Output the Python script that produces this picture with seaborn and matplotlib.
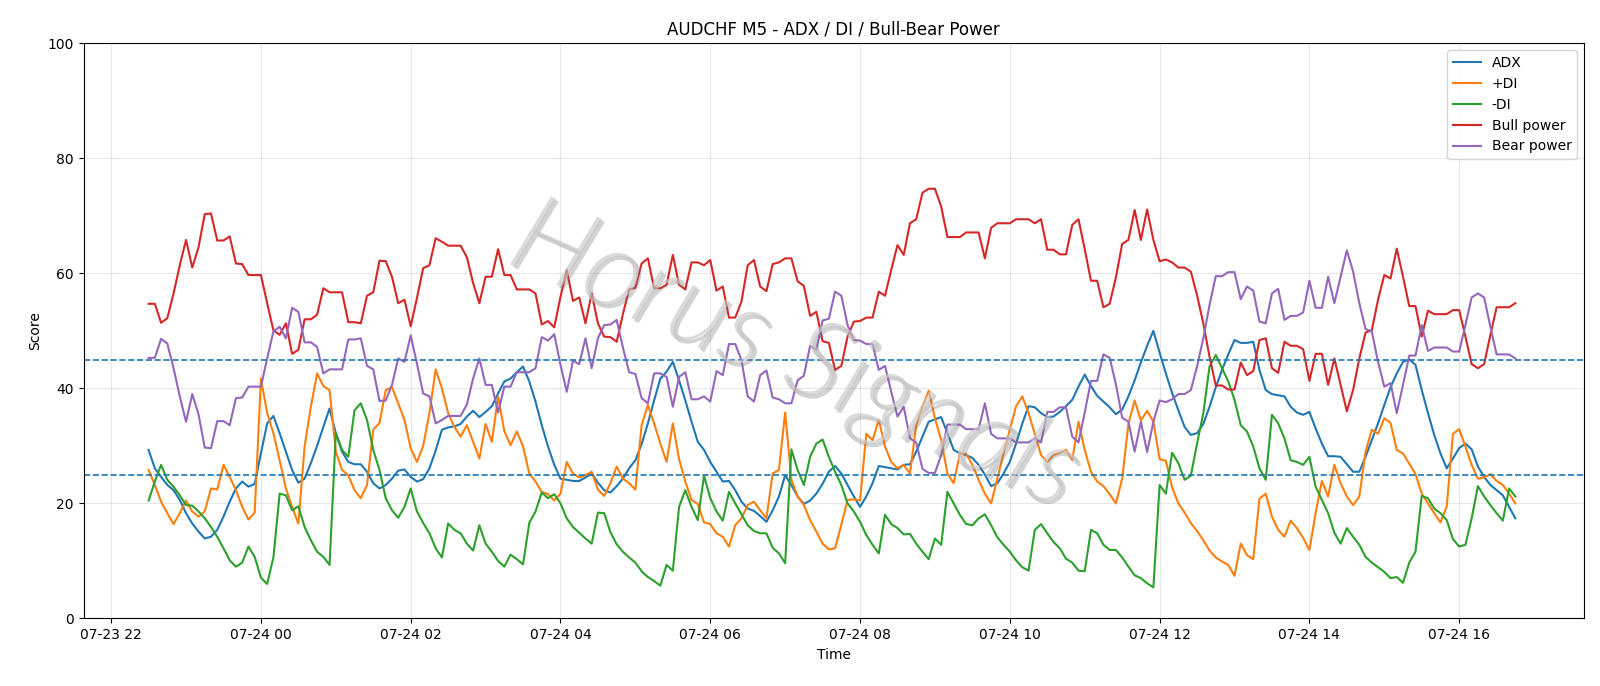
import pandas as pd
import matplotlib
matplotlib.use("Agg")
import matplotlib.pyplot as plt
import matplotlib.dates as mdates
import matplotlib.patheffects as pe
from matplotlib import font_manager as fm
import seaborn as sns

# AUDCHF M5 bars, 22:30 -> 16:45
start = "2025-07-23 22:30"
n_bars = 220

adx = [29.3, 26.1, 24.6, 23.2, 22.3, 20.6, 18.3, 16.5, 15.1, 13.9, 14.2, 15.4, 17.7, 20.3, 22.6, 23.8, 22.9, 23.4, 28.7, 33.9,
       35.2, 32.2, 29.0, 25.8, 23.6, 24.3, 27.0, 30.0, 33.3, 36.5, 32.2, 29.0, 27.2, 26.8, 26.8, 25.5, 23.5,
       22.6, 23.2, 24.3, 25.7, 25.9, 24.6, 23.8, 24.2, 26.1, 29.2, 32.8, 33.2, 33.4, 33.8, 35.1, 36.1, 35.0, 35.9,
       36.9, 39.1, 41.2, 41.7, 42.8, 43.8, 41.2, 37.7, 33.6, 29.9, 26.7, 24.3, 24.1, 23.9, 23.9, 24.5, 25.2, 23.6,
       22.3, 21.9, 23.0, 24.3, 26.1, 27.5, 30.3, 33.9, 37.9, 41.7, 42.9, 44.6, 41.4, 37.9, 34.2, 30.7, 29.3, 27.2,
       25.5, 23.8, 23.9, 22.3, 20.3, 19.1, 18.7, 17.8, 16.8, 18.8, 21.2, 24.9, 23.2, 21.2, 19.9, 20.5, 21.7, 23.4, 25.5,
       26.5, 25.2, 23.2, 21.2, 19.4, 21.2, 23.5, 26.5, 26.3, 26.1, 25.9, 26.7, 26.8, 29.0, 31.6, 34.2, 34.6, 35.0, 32.2,
       29.3, 28.7, 28.4, 27.9, 26.7, 25.0, 23.0, 23.5, 25.2, 27.2, 30.4, 33.9, 36.9, 36.7, 35.7, 35.0, 35.1, 35.9, 36.9,
       38.0, 40.3, 42.4, 40.4, 38.7, 37.7, 36.7, 35.5, 36.3, 38.6, 41.4, 44.5, 47.4, 50.0, 46.2, 42.6, 39.2, 36.2, 33.3,
       31.9, 32.2, 33.8, 36.8, 40.2, 43.2, 45.9, 48.4, 47.9, 47.9, 48.1, 43.2, 39.7, 39.0, 38.8, 38.6, 36.8, 35.8,
       35.4, 35.9, 33.0, 30.4, 28.2, 28.2, 28.1, 26.8, 25.5, 25.5, 28.1, 31.0, 33.9, 37.1, 40.2, 42.6, 44.6, 45.0,
       44.1, 39.7, 35.7, 31.9, 28.7, 26.1, 27.8, 29.6, 30.4, 29.4, 26.4, 24.6, 23.2, 22.3, 21.4, 19.4, 17.4]

plus_di = [25.8, 23.2, 20.3, 18.3, 16.4, 18.3, 20.5, 18.6, 17.7, 18.6, 22.6, 22.4, 26.7, 24.6, 22.3, 19.4, 17.2, 18.4, 41.7, 35.7,
           32.2, 27.5, 22.6, 19.4, 16.5, 29.9, 36.8, 42.6, 40.4, 39.7, 29.0, 25.8, 24.9, 22.3, 20.9, 23.2, 32.8,
           34.0, 39.7, 40.2, 37.4, 34.5, 29.6, 27.2, 30.0, 35.7, 43.3, 40.0, 35.7, 33.3, 31.6, 33.6, 30.7, 27.8, 33.8,
           30.7, 38.6, 32.6, 30.1, 32.5, 29.9, 25.2, 23.8, 22.0, 21.6, 20.5, 21.7, 27.2, 25.2, 24.5, 24.9, 25.5, 22.4,
           21.3, 23.5, 26.4, 24.3, 23.5, 22.4, 33.6, 37.1, 33.9, 30.4, 27.2, 33.9, 27.7, 23.8, 20.6, 19.9, 16.7, 16.4,
           14.8, 14.2, 12.5, 16.2, 17.4, 19.7, 20.3, 18.8, 17.4, 25.2, 25.8, 35.8, 24.1, 21.2, 19.7, 17.1, 15.1, 13.0, 12.0,
           12.2, 16.3, 20.6, 20.7, 20.5, 32.1, 31.0, 34.5, 29.9, 27.2, 26.1, 26.7, 25.2, 33.6, 36.8, 39.6, 34.8, 31.0, 25.2,
           23.5, 28.7, 28.6, 26.7, 24.1, 21.7, 20.0, 24.3, 28.7, 32.8, 36.9, 38.6, 35.7, 32.1, 28.4, 27.2, 28.4, 28.8, 29.3,
           27.5, 34.2, 29.3, 25.5, 23.8, 23.0, 21.6, 20.0, 24.3, 33.8, 37.9, 34.4, 36.1, 34.2, 27.7, 27.4, 22.8, 20.0, 18.4,
           16.6, 15.2, 13.6, 11.8, 10.6, 9.9, 9.3, 7.4, 13.0, 11.0, 10.3, 20.8, 21.7, 17.7, 15.4, 14.2, 17.0, 15.7,
           14.0, 11.9, 18.3, 23.9, 21.2, 26.7, 23.5, 21.2, 19.7, 21.2, 29.0, 32.8, 32.1, 34.8, 34.0, 29.3, 28.7, 26.9,
           25.1, 21.7, 20.0, 18.3, 16.7, 19.4, 32.1, 32.9, 29.9, 26.7, 24.3, 24.5, 25.1, 23.9, 23.2, 21.7, 20.0]

minus_di = [20.5, 23.8, 26.7, 24.1, 22.9, 21.4, 19.7, 19.6, 18.6, 17.4, 15.9, 14.2, 12.2, 10.1, 9.0, 9.7, 12.5, 10.7, 7.1, 6.0,
            10.6, 21.7, 21.4, 18.8, 19.5, 15.9, 13.6, 11.6, 10.7, 9.3, 32.2, 29.3, 28.1, 36.2, 37.4, 34.5, 29.3,
            25.8, 20.9, 18.8, 17.5, 19.4, 22.6, 18.6, 16.6, 14.8, 12.2, 10.6, 16.5, 15.4, 14.8, 13.0, 11.8, 16.2, 13.0,
            11.6, 10.0, 9.0, 11.1, 10.3, 9.4, 16.6, 18.6, 21.9, 20.9, 21.6, 20.0, 17.4, 15.9, 14.9, 13.9, 13.0, 18.4,
            18.3, 15.0, 12.9, 11.6, 10.6, 9.7, 8.2, 7.2, 6.5, 5.7, 9.3, 8.3, 19.4, 22.3, 19.4, 17.1, 24.8, 20.9,
            18.6, 17.0, 22.0, 20.0, 18.1, 16.2, 15.2, 14.8, 14.8, 12.3, 11.3, 9.6, 29.4, 25.8, 23.2, 28.1, 30.4, 31.1, 28.1,
            25.5, 23.2, 20.0, 18.6, 16.8, 14.5, 12.8, 11.3, 18.0, 16.4, 15.7, 14.6, 14.7, 13.0, 11.6, 10.3, 13.9, 12.8, 22.0,
            20.0, 18.0, 16.4, 16.2, 17.4, 18.1, 16.2, 14.1, 12.8, 11.6, 10.1, 8.9, 8.3, 15.4, 16.4, 14.8, 13.3, 12.2, 10.4,
            9.7, 8.3, 8.2, 15.4, 14.8, 12.8, 11.9, 11.9, 10.6, 9.0, 7.5, 7.0, 6.1, 5.4, 23.2, 21.7, 28.8, 27.0, 24.1,
            24.8, 30.4, 35.7, 43.8, 45.8, 43.5, 41.2, 38.0, 33.6, 32.5, 29.9, 26.1, 24.1, 35.4, 33.9, 31.3, 27.5, 27.2,
            26.7, 28.1, 22.9, 20.6, 18.3, 14.9, 13.0, 15.7, 14.2, 12.8, 10.7, 9.7, 8.9, 8.1, 7.0, 7.2, 6.2, 9.7,
            11.6, 21.3, 20.9, 19.1, 18.3, 17.1, 13.8, 12.5, 12.8, 17.4, 23.0, 21.2, 19.7, 18.3, 17.0, 22.6, 21.2]

bull = [54.7, 54.7, 51.4, 52.2, 56.5, 61.4, 65.8, 61.0, 64.5, 70.3, 70.4, 65.7, 65.7, 66.4, 61.7, 61.6, 59.7, 59.7, 59.7, 54.8,
        50.1, 49.3, 51.3, 46.0, 46.7, 52.0, 52.0, 52.8, 57.4, 56.7, 56.7, 56.7, 51.5, 51.5, 51.3, 56.1, 56.7, 62.2,
        62.1, 59.4, 54.8, 55.4, 50.8, 55.7, 60.9, 61.4, 66.1, 65.5, 64.8, 64.8, 64.8, 62.8, 58.3, 54.8, 59.4, 59.4,
        64.2, 59.7, 59.7, 57.2, 57.2, 57.2, 56.5, 51.1, 51.7, 50.6, 55.9, 60.6, 55.2, 55.8, 51.3, 56.5, 51.3,
        49.0, 48.9, 48.1, 52.9, 57.2, 57.5, 61.7, 62.6, 57.4, 57.4, 58.0, 63.2, 58.0, 57.2, 61.9, 61.9, 61.4, 62.3,
        57.0, 57.7, 52.3, 52.3, 55.1, 61.4, 62.3, 57.7, 56.9, 61.6, 61.9, 62.6, 62.6, 58.6, 57.8, 52.6, 53.3, 48.2, 47.9,
        43.2, 43.9, 49.0, 51.6, 51.7, 52.3, 52.3, 56.8, 56.1, 60.6, 64.9, 63.2, 68.7, 69.4, 74.0, 74.7, 74.7, 71.6, 66.3,
        66.3, 66.3, 67.1, 67.1, 67.1, 62.6, 67.9, 68.7, 68.7, 68.7, 69.4, 69.4, 69.4, 68.7, 69.4, 64.1, 64.1, 63.3, 63.3,
        68.4, 69.4, 64.2, 58.7, 58.7, 54.1, 54.7, 59.3, 65.1, 65.8, 71.0, 65.8, 71.1, 65.8, 62.1, 62.4, 61.9, 61.0, 61.0,
        60.3, 56.2, 51.3, 45.5, 40.5, 40.5, 39.8, 39.8, 44.5, 42.3, 43.0, 48.4, 48.7, 43.5, 42.7, 48.1, 47.4, 47.4,
        46.8, 41.3, 46.0, 46.0, 40.6, 45.2, 40.6, 36.0, 39.7, 45.2, 49.7, 50.1, 55.4, 59.7, 59.1, 64.3, 59.4, 54.3,
        54.3, 49.0, 53.5, 52.9, 52.9, 52.9, 53.6, 53.6, 49.0, 44.2, 43.5, 44.2, 49.3, 54.1, 54.1, 54.1, 54.8]

bear = [45.3, 45.3, 48.6, 47.8, 43.5, 38.6, 34.2, 39.0, 35.5, 29.7, 29.6, 34.3, 34.3, 33.6, 38.3, 38.4, 40.3, 40.3, 40.3, 45.2,
        49.9, 50.7, 48.7, 54.0, 53.3, 48.0, 48.0, 47.2, 42.6, 43.3, 43.3, 43.3, 48.5, 48.5, 48.7, 43.9, 43.3, 37.8,
        37.9, 40.6, 45.2, 44.6, 49.2, 44.3, 39.1, 38.6, 33.9, 34.5, 35.2, 35.2, 35.2, 37.2, 41.7, 45.2, 40.6, 40.6,
        35.8, 40.3, 40.3, 42.8, 42.8, 42.8, 43.5, 48.9, 48.3, 49.4, 44.1, 39.4, 44.8, 44.2, 48.7, 43.5, 48.7,
        51.0, 51.1, 51.9, 47.1, 42.8, 42.5, 38.3, 37.4, 42.6, 42.6, 42.0, 36.8, 42.0, 42.8, 38.1, 38.1, 38.6, 37.7,
        43.0, 42.3, 47.7, 47.7, 44.9, 38.6, 37.7, 42.3, 43.1, 38.4, 38.1, 37.4, 37.4, 41.4, 42.2, 47.4, 46.7, 51.8, 52.1,
        56.8, 56.1, 51.0, 48.4, 48.3, 47.7, 47.7, 43.2, 43.9, 39.4, 35.1, 36.8, 31.3, 30.6, 26.0, 25.3, 25.3, 28.4, 33.7,
        33.7, 33.7, 32.9, 32.9, 32.9, 37.4, 32.1, 31.3, 31.3, 31.3, 30.6, 30.6, 30.6, 31.3, 30.6, 35.9, 35.9, 36.7, 36.7,
        31.6, 30.6, 35.8, 41.3, 41.3, 45.9, 45.3, 40.7, 34.9, 34.2, 29.0, 34.2, 28.9, 34.2, 37.9, 37.6, 38.1, 39.0, 39.0,
        39.7, 43.8, 48.7, 54.5, 59.5, 59.5, 60.2, 60.2, 55.5, 57.7, 57.0, 51.6, 51.3, 56.5, 57.3, 51.9, 52.6, 52.6,
        53.2, 58.7, 54.0, 54.0, 59.4, 54.8, 59.4, 64.0, 60.3, 54.8, 50.3, 49.9, 44.6, 40.3, 40.9, 35.7, 40.6, 45.7,
        45.7, 51.0, 46.5, 47.1, 47.1, 47.1, 46.4, 46.4, 51.0, 55.8, 56.5, 55.8, 50.7, 45.9, 45.9, 45.9, 45.2]

series = [("ADX", adx), ("+DI", plus_di), ("-DI", minus_di), ("Bull power", bull), ("Bear power", bear)]
levels = [25, 45]

times = pd.date_range(start, periods=n_bars, freq="5min")
for name, vals in series:
    assert len(vals) == n_bars, (name, len(vals))

fig, ax = plt.subplots(figsize=(16, 6.86), dpi=100)
fig.subplots_adjust(left=0.0523, right=0.99, top=0.937, bottom=0.0985)

for k, (name, vals) in enumerate(series):
    sns.lineplot(x=times, y=vals, ax=ax, label=name, color="C%d" % k, linewidth=1.5)

for lv in levels:
    ax.axhline(lv, linestyle="--", linewidth=1.2, color="C0")

ax.set_ylim(0, 100)
ax.set_xlim(pd.Timestamp("2025-07-23 21:38"), pd.Timestamp("2025-07-24 17:40"))
ax.xaxis.set_major_locator(mdates.HourLocator(byhour=range(0, 24, 2)))
ax.xaxis.set_major_formatter(mdates.DateFormatter("%m-%d %H"))
ax.grid(True, alpha=0.3)
ax.set_title("AUDCHF M5 - ADX / DI / Bull-Bear Power", fontsize=12)
ax.set_xlabel("Time")
ax.set_ylabel("Score")
ax.legend(loc="upper right")

# watermark: pick a thin italic face if one is installed
wm_size = 80
wm_prop = fm.FontProperties(family="DejaVu Sans", style="italic", size=wm_size)
for fam in ["Lato", "Roboto", "Open Sans", "Noto Sans"]:
    hits = [f for f in fm.fontManager.ttflist
            if f.name == fam and f.style == "italic" and isinstance(f.weight, int) and f.weight <= 300]
    if hits:
        hits.sort(key=lambda f: -f.weight)
        wm_prop = fm.FontProperties(fname=hits[0].fname, size=wm_size)
        break

ax.text(0.474, 0.452, "Horus Signals", transform=ax.transAxes, rotation=-24,
        fontproperties=wm_prop, color="#c8c8c8", alpha=0.65,
        ha="center", va="center", zorder=10,
        path_effects=[pe.SimplePatchShadow(offset=(2, -2), shadow_rgbFace="#707070", alpha=0.3), pe.Normal()])

fig.savefig("out.png", dpi=100)
